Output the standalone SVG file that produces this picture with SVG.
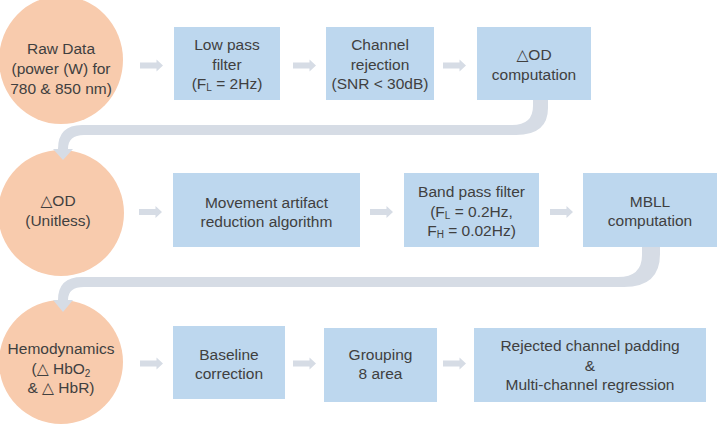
<svg xmlns="http://www.w3.org/2000/svg" xmlns:xlink="http://www.w3.org/1999/xlink" width="718" height="424" viewBox="0 0 718 424">
<style>
  .circ { fill: #F8CBAD; }
  .box { fill: #BDD7EE; }
  .t { font-family: "Liberation Sans", "DejaVu Sans", Arial, sans-serif; font-size: 15.5px; fill: #404040; text-anchor: middle; }
  .sub { font-size: 10px; }
  .conn { fill: #D6DCE5; }
</style>
<defs>
  <path id="rarrow" d="M0 -3 H16.5 V-6 L23 0 L16.5 6 V3 H0 Z"/>
</defs>
<rect width="718" height="424" fill="#FFFFFF"/>

<g id="raw-data">
  <ellipse class="circ" cx="61" cy="60" rx="62" ry="64"/>
  <text class="t" x="61" y="54">Raw Data</text>
  <text class="t" x="61" y="74">(power (W) for</text>
  <text class="t" x="61" y="93.5">780 &amp; 850 nm)</text>
</g>
<g id="low-pass">
  <rect class="box" x="174" y="27" width="106" height="73"/>
  <text class="t" x="227" y="50">Low pass</text>
  <text class="t" x="227" y="69.5">filter</text>
  <text class="t" x="227" y="89">(F<tspan class="sub" dy="2">L</tspan><tspan dy="-2"> = 2Hz)</tspan></text>
</g>
<g id="channel-rejection">
  <rect class="box" x="326" y="27" width="108" height="73"/>
  <text class="t" x="380" y="50">Channel</text>
  <text class="t" x="380" y="69.5">rejection</text>
  <text class="t" x="380" y="89">(SNR &lt; 30dB)</text>
</g>
<g id="od-computation">
  <rect class="box" x="477" y="27" width="114" height="73"/>
  <text class="t" x="534" y="60">△OD</text>
  <text class="t" x="534" y="79.5">computation</text>
</g>

<g id="od-unitless">
  <circle class="circ" cx="61" cy="213" r="63"/>
  <text class="t" x="58" y="206">△OD</text>
  <text class="t" x="58" y="226">(Unitless)</text>
</g>
<g id="movement-artifact">
  <rect class="box" x="173" y="173" width="187" height="74"/>
  <text class="t" x="266.5" y="207.5">Movement artifact</text>
  <text class="t" x="266.5" y="226.5">reduction algorithm</text>
</g>
<g id="band-pass">
  <rect class="box" x="404" y="173" width="135" height="74"/>
  <text class="t" x="471.5" y="197">Band pass filter</text>
  <text class="t" x="471.5" y="216.5">(F<tspan class="sub" dy="2">L</tspan><tspan dy="-2"> = 0.2Hz,</tspan></text>
  <text class="t" x="471.5" y="235.5">F<tspan class="sub" dy="2">H</tspan><tspan dy="-2"> = 0.02Hz)</tspan></text>
</g>
<g id="mbll">
  <rect class="box" x="583" y="173" width="134" height="74"/>
  <text class="t" x="650" y="207">MBLL</text>
  <text class="t" x="650" y="226">computation</text>
</g>

<g id="hemodynamics">
  <circle class="circ" cx="61" cy="362" r="62"/>
  <text class="t" x="61" y="354">Hemodynamics</text>
  <text class="t" x="61" y="373.5">(△ HbO<tspan class="sub" dy="3">2</tspan></text>
  <text class="t" x="61" y="393">&amp; △ HbR)</text>
</g>
<g id="baseline">
  <rect class="box" x="173" y="326" width="112" height="73"/>
  <text class="t" x="229" y="360">Baseline</text>
  <text class="t" x="229" y="379">correction</text>
</g>
<g id="grouping">
  <rect class="box" x="324" y="328" width="113" height="74"/>
  <text class="t" x="380.5" y="360">Grouping</text>
  <text class="t" x="380.5" y="379">8 area</text>
</g>
<g id="rejected-padding">
  <rect class="box" x="474" y="328" width="232" height="74"/>
  <text class="t" x="590" y="351">Rejected channel padding</text>
  <text class="t" x="590" y="370.5">&amp;</text>
  <text class="t" x="590" y="390">Multi-channel regression</text>
</g>

<g id="connectors" class="conn">
  <use xlink:href="#rarrow" x="140" y="65.5"/>
  <use xlink:href="#rarrow" x="293" y="65.5"/>
  <use xlink:href="#rarrow" x="443" y="65.5"/>
  <use xlink:href="#rarrow" x="139" y="212"/>
  <use xlink:href="#rarrow" x="370" y="212"/>
  <use xlink:href="#rarrow" x="550" y="212"/>
  <use xlink:href="#rarrow" x="140" y="363.5"/>
  <use xlink:href="#rarrow" x="293" y="363.5"/>
  <use xlink:href="#rarrow" x="443" y="363.5"/>
  <path d="M533 100 H548 V108 Q548 135 516 135 H84 Q68 135 68 149 H73 L63 160 L53 149 H58 Q58 125 82 125 H512 Q533 125 533 106 Z"/>
  <path d="M642 247 H660 V254 Q660 287 624 287 H84 Q68 287 68 300 H73 L63 312 L53 300 H58 Q58 277 82 277 H618 Q642 277 642 255 Z"/>
</g>
</svg>
